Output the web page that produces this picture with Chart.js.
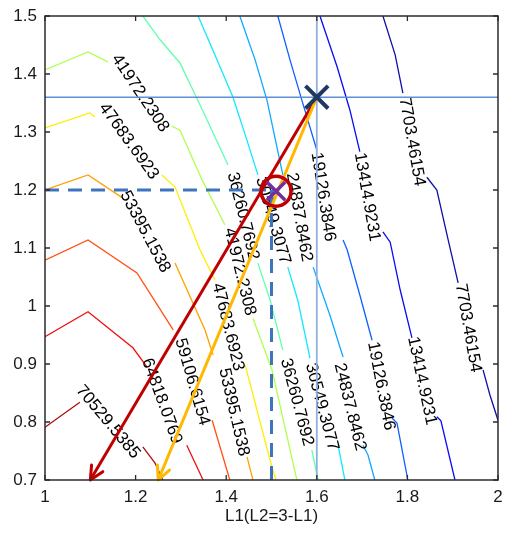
<!DOCTYPE html>
<html>
<head>
<meta charset="utf-8">
<title>L1 contour</title>
<script src="https://cdn.jsdelivr.net/npm/chart.js@4.4.1/dist/chart.umd.min.js"></script>
<style>
  html, body { margin: 0; padding: 0; background: #ffffff; }
  canvas { display: block; }
</style>
</head>
<body>
<canvas id="chart" width="510" height="533"></canvas>
<script>
// contour levels as printed on the lines
const levels = ['7703.46154', '13414.9231', '19126.3846', '24837.8462', '30549.3077', '36260.7692',
                '41972.2308', '47683.6923', '53395.1538', '59106.6154', '64818.0769', '70529.5385'];

// contour paths as [L1, L2] pairs; null marks where an inline label interrupts the line
const c7703  = [[1.746,1.500],[1.773,1.433],[1.790,1.367],null,[1.843,1.222],[1.865,1.200],[1.890,1.114],[1.912,1.040],null,[1.967,0.890],[1.982,0.847],[2.000,0.803]];
const c13414 = [[1.607,1.500],[1.645,1.412],[1.673,1.338],[1.695,1.266],null,[1.746,1.128],[1.762,1.110],[1.784,1.028],[1.810,0.945],null,[1.865,0.809],[1.874,0.802],[1.905,0.700]];
const c19126 = [[1.514,1.500],[1.541,1.424],[1.567,1.355],[1.600,1.269],null,[1.658,1.114],[1.667,1.097],[1.695,1.019],[1.722,0.941],null,[1.766,0.807],[1.777,0.798],[1.801,0.700]];
const c24837 = [[1.430,1.500],[1.464,1.424],[1.490,1.355],[1.525,1.226],null,[1.592,1.067],[1.629,0.984],[1.658,0.912],null,[1.702,0.760],[1.713,0.743],[1.728,0.700]];
const c30549 = [[1.338,1.500],[1.375,1.433],[1.415,1.360],[1.442,1.295],[1.470,1.226],null,[1.536,1.067],[1.558,1.010],[1.585,0.910],null,[1.647,0.760],[1.662,0.700]];
const c36260 = [[1.216,1.500],[1.254,1.459],[1.298,1.419],[1.353,1.329],[1.404,1.243],null,[1.470,1.074],[1.497,1.010],[1.525,0.924],null,[1.589,0.752],[1.603,0.700]];
const c41972 = [[1.000,1.407],[1.095,1.438],[1.139,1.421],null,[1.280,1.310],[1.298,1.303],[1.347,1.217],[1.397,1.140],null,[1.459,0.979],[1.501,0.890],[1.556,0.700]];
const c47683 = [[1.000,1.307],[1.099,1.333],[1.110,1.326],null,[1.258,1.226],[1.287,1.205],[1.342,1.097],[1.375,1.045],null,[1.442,0.898],[1.501,0.722],[1.510,0.700]];
const c53395 = [[1.000,1.200],[1.095,1.226],[1.172,1.186],null,[1.287,1.074],[1.353,0.959],[1.371,0.916],null,[1.446,0.740],[1.459,0.700]];
const c59106 = [[1.000,1.079],[1.095,1.114],[1.203,1.057],[1.283,0.959],null,[1.369,0.803],[1.408,0.700]];
const c64818 = [[1.000,0.947],[1.095,0.990],[1.194,0.928],[1.225,0.895],null,[1.313,0.760],[1.349,0.700]];
const c70529 = [[1.000,0.791],[1.077,0.834],null,[1.216,0.757],[1.243,0.729],[1.260,0.700]];

// where each level's label sits: [level index, L1, L2]
const labelSpots = [
  [0, 1.810, 1.283], [0, 1.934, 0.962],
  [1, 1.711, 1.188], [1, 1.832, 0.871],
  [2, 1.614, 1.188], [2, 1.742, 0.862],
  [3, 1.561, 1.153], [3, 1.673, 0.826],
  [4, 1.503, 1.147], [4, 1.611, 0.826],
  [5, 1.437, 1.155], [5, 1.556, 0.834],
  [6, 1.210, 1.367], [6, 1.430, 1.059],
  [7, 1.185, 1.284], [7, 1.404, 0.964],
  [8, 1.221, 1.128], [8, 1.417, 0.817],
  [9, 1.325, 0.869],
  [10, 1.258, 0.836],
  [11, 1.139, 0.800]
];
// label tilt in degrees, same order as labelSpots
const labelTilt = [80, 80, 80, 78, 81, 79, 80, 76, 74, 75, 76, 75, 56, 76, 54, 76, 62, 77, 74, 70, 50];

// search points
const startPoint = [1.6, 1.36];
const optimumPoint = [1.51, 1.198];
const redArrowEnd = [1.1, 0.7];
const goldArrowEnd = [1.25, 0.7];
const guideL1 = 1.5, guideL2 = 1.2;

const contours = [c7703, c13414, c19126, c24837, c30549, c36260, c41972, c47683, c53395, c59106, c64818, c70529];
const levelColors = ['#1010a8', '#0a0af5', '#1060ff', '#10a8ff', '#10e8ff', '#60ffb0',
                     '#b0ff50', '#ffee00', '#ffa000', '#ff5010', '#f01010', '#a81010'];

const FONT = '"Liberation Sans", Arial, Helvetica, sans-serif';

function toPoints(path) {
  const out = [];
  let last = path.find(p => p);
  path.forEach(p => {
    if (p) { out.push({ x: p[0], y: p[1] }); last = p; }
    else out.push({ x: last[0], y: null });
  });
  return out;
}

const datasets = contours.map((path, i) => ({
  data: toPoints(path),
  showLine: true, spanGaps: false,
  borderColor: levelColors[i], borderWidth: 1.3,
  pointRadius: 0, fill: false, order: 10
}));

const pt = a => ({ x: a[0], y: a[1] });
datasets.push(
  { data: [{ x: startPoint[0], y: 0.7 }, { x: startPoint[0], y: 1.5 }], showLine: true, borderColor: '#8fb1de', borderWidth: 1.8, pointRadius: 0, order: 6 },
  { data: [{ x: 1, y: startPoint[1] }, { x: 2, y: startPoint[1] }], showLine: true, borderColor: '#5b8fd6', borderWidth: 1.4, pointRadius: 0, order: 6 },
  { data: [{ x: 1, y: guideL2 }, { x: guideL1, y: guideL2 }], showLine: true, borderColor: '#3d74bd', borderWidth: 3, borderDash: [14, 9], pointRadius: 0, order: 5 },
  { data: [{ x: guideL1, y: guideL2 }, { x: guideL1, y: 0.7 }], showLine: true, borderColor: '#3d74bd', borderWidth: 3, borderDash: [14, 9], pointRadius: 0, order: 5 },
  { data: [pt(startPoint), pt(redArrowEnd)], showLine: true, borderColor: '#c00000', borderWidth: 3, pointRadius: 0, order: 4, arrowHead: true },
  { data: [pt(startPoint), pt(goldArrowEnd)], showLine: true, borderColor: '#ffb800', borderWidth: 3, pointRadius: 0, order: 3, arrowHead: true },
  { data: [pt(optimumPoint)], showLine: false, pointStyle: 'circle', pointRadius: 15, pointBorderWidth: 3.5, pointBorderColor: '#c00000', pointBackgroundColor: 'rgba(0,0,0,0)', order: 2 },
  { data: [pt(optimumPoint)], showLine: false, pointStyle: 'crossRot', pointRadius: 13, pointBorderWidth: 3.5, pointBorderColor: '#7030a0', order: 1 },
  { data: [pt(startPoint)], showLine: false, pointStyle: 'crossRot', pointRadius: 16, pointBorderWidth: 4, pointBorderColor: '#1f3864', order: 0 }
);

// inline contour labels, drawn right after the contour lines
const contourLabels = {
  id: 'contourLabels',
  afterDatasetDraw(chart, args) {
    if (args.index !== 0) return;
    const { ctx, chartArea: a, scales: { x, y } } = chart;
    ctx.save();
    ctx.beginPath(); ctx.rect(a.left, a.top, a.right - a.left, a.bottom - a.top); ctx.clip();
    ctx.font = '17px ' + FONT;
    ctx.fillStyle = '#000000';
    ctx.textAlign = 'center';
    ctx.textBaseline = 'middle';
    labelSpots.forEach(([k, lx, ly], i) => {
      ctx.save();
      ctx.translate(x.getPixelForValue(lx), y.getPixelForValue(ly));
      ctx.rotate(labelTilt[i] * Math.PI / 180);
      ctx.fillText(levels[k], 0, 0);
      ctx.restore();
    });
    ctx.restore();
  }
};

// open arrowheads at the end of the search directions
const arrowHeads = {
  id: 'arrowHeads',
  afterDatasetDraw(chart, args) {
    const ds = chart.data.datasets[args.index];
    if (!ds.arrowHead) return;
    const pts = args.meta.data;
    const p0 = pts[pts.length - 2], p1 = pts[pts.length - 1];
    const ang = Math.atan2(p1.y - p0.y, p1.x - p0.x);
    const len = 15, spread = 0.45;
    const ctx = chart.ctx;
    ctx.save();
    ctx.strokeStyle = ds.borderColor;
    ctx.lineWidth = 3;
    ctx.lineCap = 'round';
    ctx.lineJoin = 'round';
    ctx.beginPath();
    ctx.moveTo(p1.x - len * Math.cos(ang - spread), p1.y - len * Math.sin(ang - spread));
    ctx.lineTo(p1.x, p1.y);
    ctx.lineTo(p1.x - len * Math.cos(ang + spread), p1.y - len * Math.sin(ang + spread));
    ctx.stroke();
    ctx.restore();
  }
};

// box frame with inward ticks on all four sides
const boxFrame = {
  id: 'boxFrame',
  afterDatasetsDraw(chart) {
    const { ctx, chartArea: a, scales: { x, y } } = chart;
    const t = 5;
    ctx.save();
    ctx.strokeStyle = '#2b2b2b';
    ctx.lineWidth = 1.5;
    ctx.strokeRect(a.left, a.top, a.right - a.left, a.bottom - a.top);
    ctx.lineWidth = 1.3;
    ctx.beginPath();
    x.ticks.forEach(tk => {
      const px = x.getPixelForValue(tk.value);
      ctx.moveTo(px, a.bottom); ctx.lineTo(px, a.bottom - t);
      ctx.moveTo(px, a.top); ctx.lineTo(px, a.top + t);
    });
    y.ticks.forEach(tk => {
      const py = y.getPixelForValue(tk.value);
      ctx.moveTo(a.left, py); ctx.lineTo(a.left + t, py);
      ctx.moveTo(a.right, py); ctx.lineTo(a.right - t, py);
    });
    ctx.stroke();
    ctx.restore();
  }
};

const fmt = v => String(Number(v.toFixed(1)));
// keep edge tick labels from shrinking the plot area
const noEdgePadding = s => { s.paddingLeft = 0; s.paddingRight = 0; s.paddingTop = 0; s.paddingBottom = 0; };

new Chart(document.getElementById('chart'), {
  type: 'scatter',
  data: { datasets },
  options: {
    responsive: false,
    animation: false,
    devicePixelRatio: 1,
    layout: { autoPadding: false, padding: { left: 0, right: 12, top: 16, bottom: 0 } },
    plugins: { legend: { display: false }, tooltip: { enabled: false } },
    scales: {
      x: {
        type: 'linear', min: 1, max: 2,
        grid: { display: false, drawTicks: false },
        border: { display: false },
        ticks: { stepSize: 0.2, autoSkip: false, maxRotation: 0, padding: 7, color: '#1a1a1a', font: { family: FONT, size: 17 }, callback: fmt },
        title: { display: true, text: 'L1(L2=3-L1)', color: '#1a1a1a', font: { family: FONT, size: 17 }, padding: { top: 0, bottom: 6 } },
        afterFit: s => { s.height = 53; noEdgePadding(s); }
      },
      y: {
        type: 'linear', min: 0.7, max: 1.5,
        grid: { display: false, drawTicks: false },
        border: { display: false },
        ticks: { stepSize: 0.1, autoSkip: false, padding: 8, color: '#1a1a1a', font: { family: FONT, size: 17 }, callback: fmt },
        afterFit: s => { s.width = 45; noEdgePadding(s); }
      }
    }
  },
  plugins: [contourLabels, arrowHeads, boxFrame]
});
</script>
</body>
</html>
